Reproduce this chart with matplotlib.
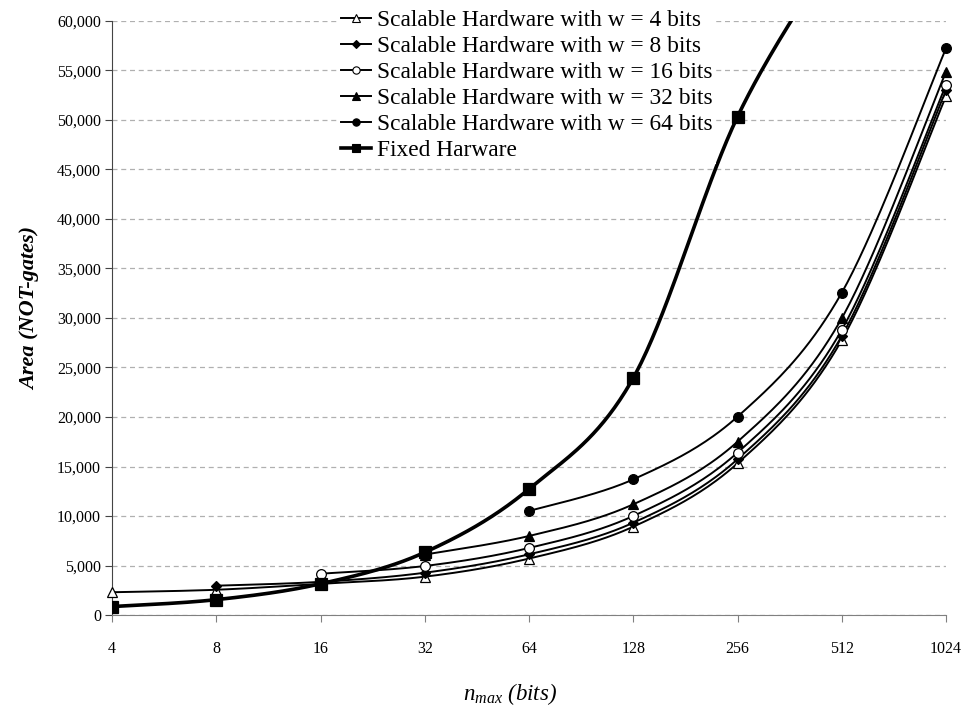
import numpy as np
import matplotlib
matplotlib.use("Agg")
import matplotlib.pyplot as plt
from matplotlib.lines import Line2D

# ---- data -------------------------------------------------------------
n_max = [4, 8, 16, 32, 64, 128, 256, 512, 1024]

w4 = [2300, 2550, 3150, 3870, 5700, 8920, 15320, 27770, 52400]
w8 = [None, 2960, 3350, 4270, 6130, 9320, 15730, 28180, 53000]
w16 = [None, None, 4170, 4950, 6770, 10000, 16400, 28800, 53530]
w32 = [None, None, None, 6100, 7980, 11180, 17500, 29970, 54870]
w64 = [None, None, None, None, 10500, 13700, 20030, 32550, 57240]
fixed = [850, 1550, 3150, 6330, 12730, 23940, 50330, 68000, None]

series = [
    ("Scalable Hardware with w = 4 bits", w4, "^", "white", 7, 1.4),
    ("Scalable Hardware with w = 8 bits", w8, "D", "black", 5, 1.4),
    ("Scalable Hardware with w = 16 bits", w16, "o", "white", 7, 1.4),
    ("Scalable Hardware with w = 32 bits", w32, "^", "black", 7, 1.4),
    ("Scalable Hardware with w = 64 bits", w64, "o", "black", 7, 1.4),
    ("Fixed Harware", fixed, "s", "black", 8.5, 2.6),
]

plt.rcParams["font.family"] = ["Liberation Serif", "DejaVu Serif"]
plt.rcParams["mathtext.fontset"] = "custom"
plt.rcParams["mathtext.it"] = "Liberation Serif:italic"
plt.rcParams["mathtext.rm"] = "Liberation Serif"


def smooth(xs, ys, steps=40):
    """Bezier smoothing through all points (spreadsheet-style smoothed line)."""
    p = np.column_stack([xs, ys]).astype(float)
    n = len(p)
    out = []
    for i in range(n - 1):
        p0 = p[i - 1] if i > 0 else p[i]
        p1 = p[i]
        p2 = p[i + 1]
        p3 = p[i + 2] if i + 2 < n else p[i + 1]
        c1 = p1 + (p2 - p0) / 6.0
        c2 = p2 - (p3 - p1) / 6.0
        t = np.linspace(0, 1, steps)[:, None]
        seg = ((1 - t) ** 3) * p1 + 3 * ((1 - t) ** 2) * t * c1 \
            + 3 * (1 - t) * t ** 2 * c2 + t ** 3 * p2
        out.append(seg if i == 0 else seg[1:])
    pts = np.vstack(out)
    return pts[:, 0], pts[:, 1]


fig = plt.figure(figsize=(9.68, 7.15), dpi=100)
ax = fig.add_axes([112 / 968, 1 - 615 / 715, (946 - 112) / 968, (615 - 21) / 715])

pos = np.arange(len(n_max))
handles = []
for label, vals, mk, fc, ms, lw in series:
    xs = [p for p, v in zip(pos, vals) if v is not None]
    ys = [v for v in vals if v is not None]
    sx, sy = smooth(xs, ys)
    ax.plot(sx, sy, color="black", lw=lw, zorder=3, solid_capstyle="round")
    ax.plot(xs, ys, ls="none", marker=mk, ms=ms, mfc=fc, mec="black",
            mew=0.9, zorder=4, clip_on=(mk == "s"))
    handles.append(Line2D([], [], color="black", lw=lw, marker=mk,
                          ms=ms * 0.75, mfc=fc, mec="black", mew=0.8,
                          label=label))

ax.set_xlim(0, len(n_max) - 1)
ax.set_ylim(0, 60000)
ax.set_xticks(pos)
ax.set_xticklabels([str(v) for v in n_max])
ax.set_yticks(np.arange(0, 60001, 5000))
ax.set_yticklabels([f"{v:,}" for v in range(0, 60001, 5000)])

ax.yaxis.grid(True, ls=(0, (4, 3)), color="#b0b0b0", lw=0.9)
ax.set_axisbelow(True)
for s in ["top", "right"]:
    ax.spines[s].set_visible(False)
ax.spines["left"].set_color("#444444")
ax.spines["bottom"].set_color("#808080")
ax.tick_params(axis="y", direction="out", length=5, width=0.8,
               color="#444444", labelsize=11.5, pad=3)
ax.tick_params(axis="x", direction="out", length=5, width=0.8,
               color="#808080", labelsize=11.5, pad=14)

fig.text(30 / 968, 1 - 308 / 715, "Area (NOT-gates)", rotation=90,
         ha="center", va="center", fontsize=16, fontweight="bold",
         fontstyle="italic")
fig.text(510 / 968, 1 - 694 / 715, r"$n_{max}$ (bits)", ha="center",
         va="center", fontsize=16.5, fontstyle="italic")

leg = fig.legend(handles=handles, loc="upper left",
                 bbox_to_anchor=(337 / 968, 1 - 6 / 715),
                 frameon=True, fancybox=False, edgecolor="none",
                 facecolor="white", framealpha=1, fontsize=16.8,
                 handlelength=1.3, handletextpad=0.25, labelspacing=0.2,
                 borderpad=0.15, borderaxespad=0)
leg.set_zorder(10)

fig.savefig("out.png", dpi=100)
